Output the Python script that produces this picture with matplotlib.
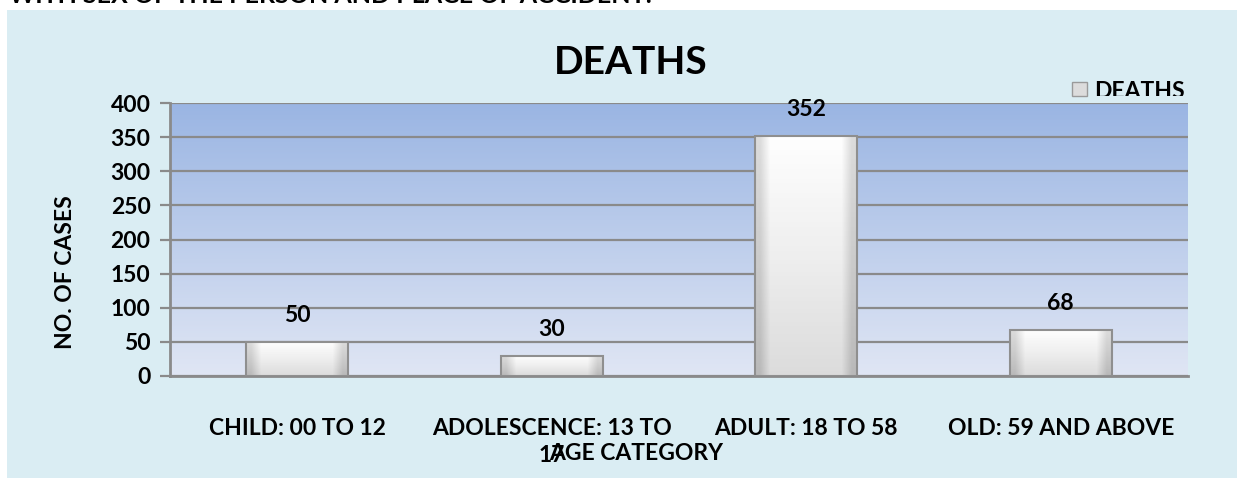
import numpy as np
import matplotlib.pyplot as plt
from matplotlib import rc
from matplotlib.transforms import Bbox
from matplotlib.colors import LinearSegmentedColormap

rc('font', family=['Lato', 'DejaVu Sans'], weight='bold')

# =============================================
# Data
# =============================================

categories = ['CHILD: 00 TO 12', 'ADOLESCENCE: 13 TO\n17',
              'ADULT: 18 TO 58', 'OLD: 59 AND ABOVE']
deaths = [50, 30, 352, 68]
yticks = [0, 50, 100, 150, 200, 250, 300, 350, 400]

title = 'DEATHS'
series_name = 'DEATHS'
xlabel = 'AGE CATEGORY'
ylabel = 'NO. OF CASES'
top_caption = 'WITH SEX OF THE PERSON AND PLACE OF ACCIDENT:'

FS = 16.5

# =============================================
# Figure setup
# =============================================

W, H = 1244, 478
fig = plt.figure(figsize=(W / 100, H / 100), dpi=100)
fig.patch.set_facecolor('white')

# light blue chart area
bg = plt.Rectangle((7 / W, 0), (1237 - 7) / W, (H - 10) / H,
                   transform=fig.transFigure, facecolor='#DAEDF3',
                   edgecolor='none', zorder=-5)
fig.patches.append(bg)

# partly cut caption above the chart
fig.text(9 / W, 1 - 3 / H, top_caption, fontsize=18, va='baseline',
         ha='left', color='black')

# plot area in pixels
L, R, T, B = 170, 1188, 103, 376
ax = fig.add_axes([L / W, 1 - B / H, (R - L) / W, (B - T) / H])
ax.set_xlim(-0.5, len(categories) - 0.5)
ax.set_ylim(0, 400)

# blue gradient background
grad_cmap = LinearSegmentedColormap.from_list('bgblue', ['#E0E6F4', '#9AB5E3'])
ax.imshow(np.linspace(0, 1, 256).reshape(-1, 1), cmap=grad_cmap, aspect='auto',
          extent=[-0.5, len(categories) - 0.5, 0, 400], origin='lower', zorder=0)

ax.set_yticks(yticks)
ax.yaxis.grid(True, color='#8A8A8A', linewidth=1.6, zorder=1)
ax.set_xticks(range(len(categories)))
ax.set_xticklabels(categories, fontsize=FS, linespacing=1.35)
ax.tick_params(axis='x', length=0, pad=30)
ax.tick_params(axis='y', length=7, width=1.6, color='#8A8A8A', labelsize=FS, pad=7)

for s in ['top', 'right']:
    ax.spines[s].set_visible(False)
for s in ['left', 'bottom']:
    ax.spines[s].set_color('#8A8A8A')
    ax.spines[s].set_linewidth(2)

# =============================================
# Bars with a white-to-grey bevel look
# =============================================

bars = ax.bar(range(len(categories)), deaths, width=0.4, color='none',
              edgecolor='#8F8F8F', linewidth=1.5, zorder=3)
bar_cmap = LinearSegmentedColormap.from_list('barg', ['#C9C9C9', '#E6E6E6', '#FFFFFF'])
for b in bars:
    x0, y0, bw, bh = b.get_x(), b.get_y(), b.get_width(), b.get_height()
    im = ax.imshow(np.linspace(0, 1, 256).reshape(-1, 1), cmap=bar_cmap,
                   aspect='auto', extent=[x0, x0 + bw, y0, y0 + bh],
                   origin='lower', zorder=2.5)
    im.set_clip_path(b)
    # side shading
    ax.imshow(np.array([[0.0, 1.0, 1.0, 1.0, 1.0, 1.0, 1.0, 1.0, 1.0, 0.0]]),
              cmap=LinearSegmentedColormap.from_list('side', ['#9C9C9C', '#FFFFFF']),
              alpha=0.35, aspect='auto', extent=[x0, x0 + bw, y0, y0 + bh],
              interpolation='bilinear', zorder=2.6)
    ax.annotate(str(int(bh)), (x0 + bw / 2, bh), xytext=(0, 26),
                textcoords='offset pixels', ha='center', va='center',
                fontsize=FS, fontweight='bold')

ax.set_xlim(-0.5, len(categories) - 0.5)
ax.set_ylim(0, 400)

# =============================================
# Titles and labels
# =============================================

fig.text(631 / W, 1 - 62 / H, title, fontsize=28, ha='center', va='center')
fig.text(636 / W, 1 - 453 / H, xlabel, fontsize=FS, ha='center', va='center')
fig.text(66 / W, 1 - 272 / H, ylabel, fontsize=FS, ha='center', va='center',
         rotation=90)

# legend, cut off by the plot area like in the source
icon = plt.Rectangle((1072 / W, 1 - 96 / H), 15 / W, 14 / H,
                     transform=fig.transFigure, facecolor='#DCDCDC',
                     edgecolor='#9A9A9A', linewidth=1)
fig.patches.append(icon)
leg = fig.text(1094 / W, 1 - 81 / H, series_name, fontsize=FS, ha='left',
               va='top')
leg.set_clip_box(Bbox.from_extents(1090, H - 96, 1190, H - 70))
leg.set_clip_on(True)

fig.savefig('out.png', dpi=100)
